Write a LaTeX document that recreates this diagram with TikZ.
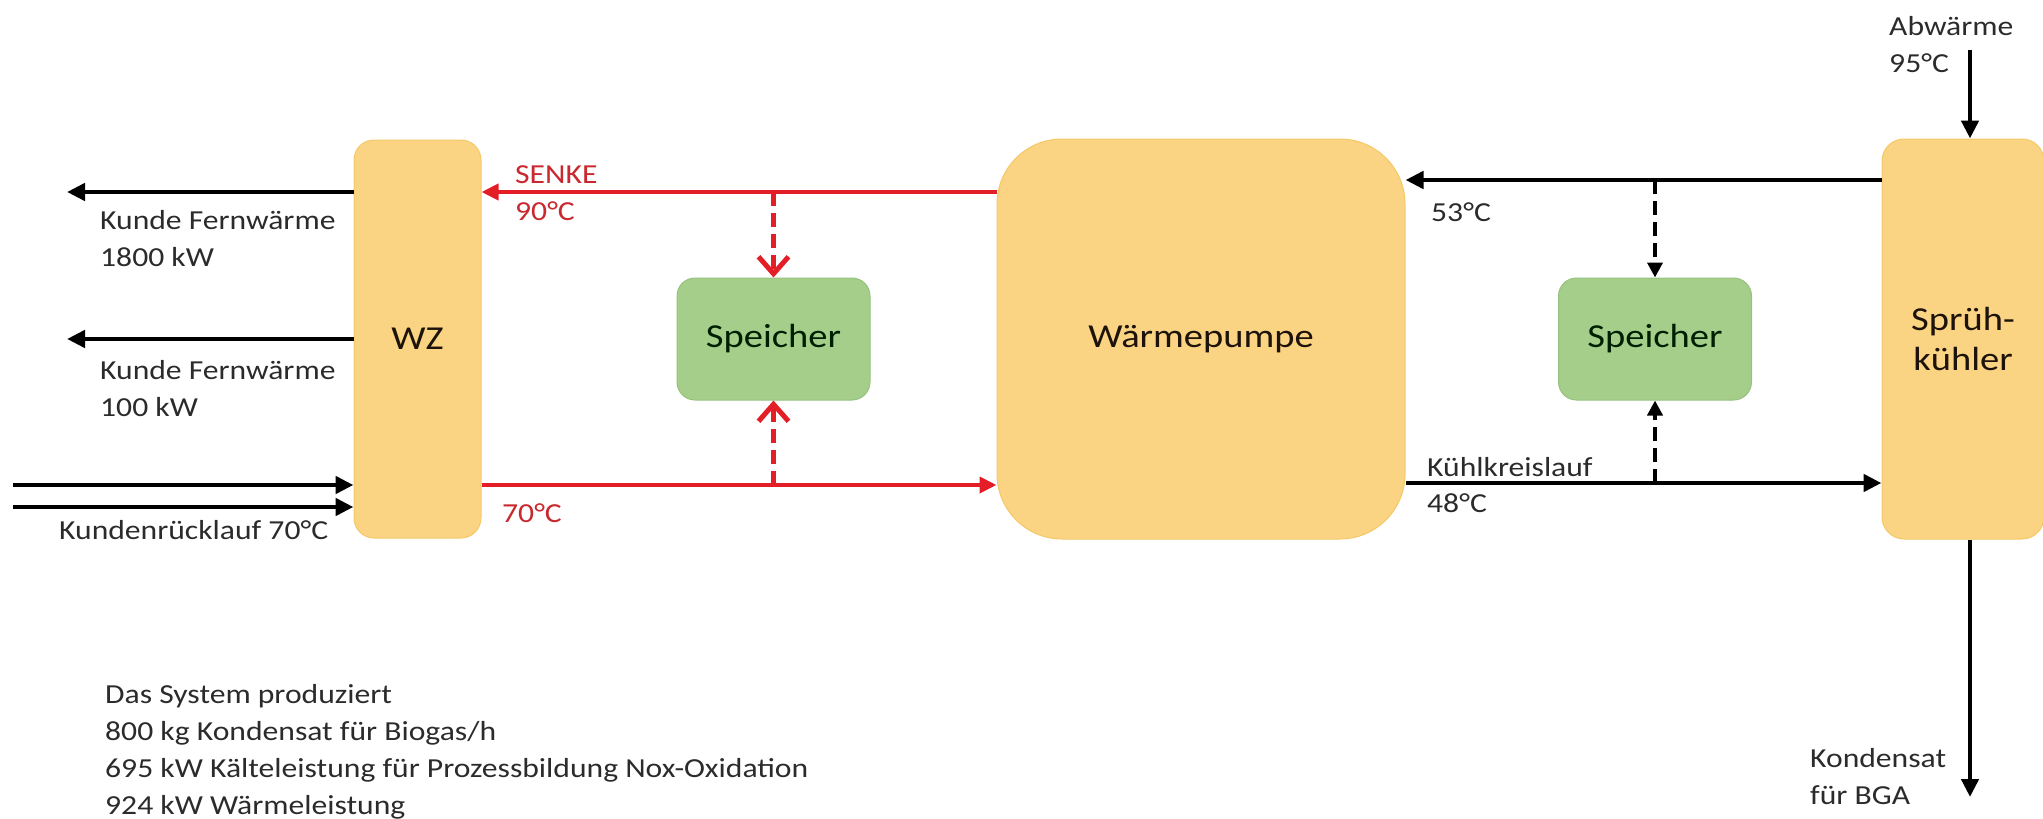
\documentclass[tikz,border=0pt]{standalone}
\usepackage{fontspec}
\setmainfont{Carlito}[FakeStretch=1.15]
\usetikzlibrary{arrows.meta}
\definecolor{boxyellow}{HTML}{FAD383}
\definecolor{boxyellowline}{HTML}{F5C96A}
\definecolor{boxgreen}{HTML}{A5CE8B}
\definecolor{boxgreenline}{HTML}{96C27C}
\definecolor{pipered}{HTML}{E41E26}
\definecolor{labelred}{HTML}{C8282E}
\definecolor{labeltext}{HTML}{2B2B2B}
\begin{document}
\begin{tikzpicture}[x=1pt,y=-1pt,
  ybox/.style={draw=boxyellowline,line width=1pt,fill=boxyellow,rounded corners=#1,inner sep=0pt,
    font=\fontsize{33.5}{40}\selectfont,text=black!85!brown,align=center},
  gbox/.style={draw=boxgreenline,line width=1pt,fill=boxgreen,rounded corners=18pt,inner sep=0pt,
    minimum width=193pt,minimum height=122pt,font=\fontsize{33.5}{40}\selectfont,text=black!80!green!60!black},
  blk/.style={line width=4.5pt,draw=black,-{Triangle[length=18pt,width=17pt]}},
  redl/.style={line width=4pt,draw=pipered,-{Triangle[length=17pt,width=16pt]}},
  reddash/.style={line width=4.5pt,draw=pipered,dash pattern=on 14pt off 7pt,
    -{Straight Barb[length=17pt,width=30pt,line width=5pt]}},
  blkdash/.style={line width=4.5pt,draw=black,dash pattern=on 14pt off 7pt,
    -{Triangle[length=15pt,width=15pt]}},
  lbl/.style={inner sep=0pt,anchor=west,align=left,text=labeltext,font=\fontsize{27.5}{37}\selectfont},
  rlbl/.style={lbl,text=labelred}
]
\useasboundingbox (0,0) rectangle (2043,819);

% boxes
\node[ybox=20pt,minimum width=127pt,minimum height=398pt] (WZ) at (417.5,339) {WZ};
\node[gbox] (S1) at (773.5,339) {Speicher};
\node[ybox=65pt,minimum width=408pt,minimum height=400pt] (WP) at (1201,339) {Wärmepumpe};
\node[gbox] (S2) at (1655,339) {Speicher};
\node[ybox=22pt,minimum width=162pt,minimum height=400pt] (SK) at (1963,339) {Sprüh-\\kühler};

% helper coordinates
\coordinate (k1) at (67,192);
\coordinate (k2) at (67,339);
\coordinate (r1) at (13,485);
\coordinate (r2) at (13,507);
\coordinate (ytop) at (0,192);
\coordinate (ybot) at (0,485);
\coordinate (btop) at (0,180);
\coordinate (bbot) at (0,483);
\coordinate (aw) at (1970,50);
\coordinate (kd) at (1970,797);

% left side
\draw[blk] (WZ.west |- k1) -- (k1);
\draw[blk] (WZ.west |- k2) -- (k2);
\draw[blk] (r1) -- (WZ.west |- r1);
\draw[blk] (r2) -- (WZ.west |- r2);

% red circuit
\draw[redl] (WP.west |- ytop) -- (WZ.east |- ytop);
\draw[redl] (WZ.east |- ybot) -- (WP.west |- ybot);
\draw[reddash] (S1.north |- ytop) -- (S1.north);
\draw[reddash] (S1.south |- ybot) -- (S1.south);

% black circuit
\draw[blk] (SK.west |- btop) -- (WP.east |- btop);
\draw[blk] (WP.east |- bbot) -- (SK.west |- bbot);
\draw[blkdash] (S2.north |- btop) -- (S2.north);
\draw[blkdash] (S2.south |- bbot) -- (S2.south);

% Sprühkühler in/out
\draw[blk] (aw) -- (aw |- SK.north);
\draw[blk] (kd |- SK.south) -- (kd);

% labels
\node[lbl] (l1) at (100,238.5) {Kunde Fernwärme\\1800 kW};
\node[lbl] (l2) at (100,388.5) {Kunde Fernwärme\\100 kW};
\node[lbl] (l3) at (59,530) {Kundenrücklauf 70°C};
\node[rlbl] (l4) at (515,193) {SENKE\\90°C};
\node[rlbl] (l5) at (502,513) {70°C};
\node[lbl] (l6) at (1431,212) {53°C};
\node[lbl] (l7) at (1427,467) {Kühlkreislauf};
\node[lbl] (l8) at (1427,503) {48°C};
\node[lbl] (l9) at (1889,44.5) {Abwärme\\95°C};
\node[lbl] (l10) at (1810,776.5) {Kondensat\\für BGA};
\node[lbl] (l11) at (105,752) {Das System produziert\\800 kg Kondensat für Biogas/h\\695 kW Kälteleistung für Prozessbildung Nox-Oxidation\\924 kW Wärmeleistung};
\end{tikzpicture}
\end{document}
